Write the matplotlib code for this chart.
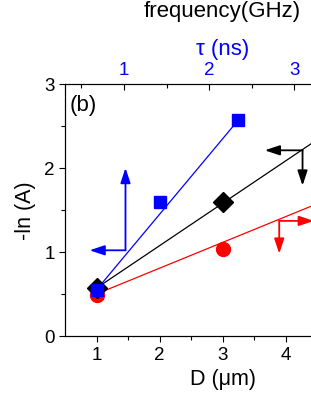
import matplotlib
matplotlib.use("Agg")
import matplotlib.pyplot as plt

plt.rcParams['font.family'] = ['Liberation Sans', 'DejaVu Sans']

# data points
blueD = [1, 2, 3.25]
blueY = [0.55, 1.6, 2.57]
blackD = [1, 3]
blackY = [0.57, 1.6]
redD = [1, 3]
redY = [0.49, 1.04]

# fit lines (end points)
blueFitD = [1, 3.25]
blueFitY = [0.55, 2.57]
blackFitD = [1, 5.5]
blackFitY = [0.57, 2.84]
redFitD = [1, 5.5]
redFitY = [0.5, 1.88]

# arrows: (vertex D, vertex y, tip D, tip y)
blueArrows = [(1.46, 1.02, 1.46, 2.0), (1.46, 1.02, 0.89, 1.02)]
blackArrows = [(4.27, 2.21, 3.67, 2.21), (4.27, 2.21, 4.27, 1.79)]
redArrows = [(3.9, 1.37, 4.45, 1.37), (3.9, 1.37, 3.9, 0.98)]

fig = plt.figure(figsize=(3.11, 4.02), dpi=100)
ax = fig.add_axes([0.209, 0.1617, 1.013, 0.627])

ax.plot(redFitD, redFitY, color='red', lw=0.9, zorder=2)
ax.plot(blackFitD, blackFitY, color='black', lw=0.9, zorder=2)
ax.plot(blueFitD, blueFitY, color='blue', lw=0.9, zorder=2)
ax.plot(redD, redY, 'o', color='red', ms=10, zorder=3)
ax.plot(blackD, blackY, 'D', color='black', ms=10, zorder=4)
ax.plot(blueD, blueY, 's', color='blue', ms=9, zorder=5)

for arrows, c in [(blueArrows, 'blue'), (blackArrows, 'black'), (redArrows, 'red')]:
    for x0, y0, x1, y1 in arrows:
        ax.annotate('', xy=(x1, y1), xytext=(x0, y0),
                    arrowprops=dict(arrowstyle='-|>,head_length=0.9,head_width=0.3',
                                    color=c, lw=1.3, mutation_scale=10,
                                    shrinkA=0, shrinkB=0),
                    zorder=6)

ax.set_xlim(0.5, 5.5)
ax.set_ylim(0, 3)
ax.set_xticks([1, 2, 3, 4])
ax.set_xticks([1.5, 2.5, 3.5, 4.5], minor=True)
ax.set_yticks([0, 1, 2, 3])
ax.set_yticks([0.5, 1.5, 2.5], minor=True)
ax.tick_params(axis='both', which='both', direction='out', labelsize=13.5, top=False, right=False)
ax.tick_params(which='major', length=4, width=0.8)
ax.tick_params(which='minor', length=3, width=0.8)
ax.set_xlabel('D (μm)', fontsize=15.5, labelpad=3)
ax.set_ylabel('-ln (A)', fontsize=15.5, labelpad=6)
ax.text(0.58, 2.75, '(b)', fontsize=16, va='center')

# top tau axis
tau = ax.twiny()
tau.set_xlim(0.306, 4.01)
tau.set_xticks([1, 2, 3])
tau.set_xticks([0.5, 1.5, 2.5, 3.5], minor=True)
tau.tick_params(axis='x', which='both', direction='in', labelsize=13.5, labelcolor='blue', pad=4)
tau.tick_params(which='major', length=4, width=0.8)
tau.tick_params(which='minor', length=3, width=0.8)
tau.set_xlabel('τ (ns)', color='blue', fontsize=16, labelpad=5)

fig.text(0.714, 0.957, 'frequency(GHz)', fontsize=16, ha='center', va='baseline')

fig.savefig('out.png', dpi=100)
